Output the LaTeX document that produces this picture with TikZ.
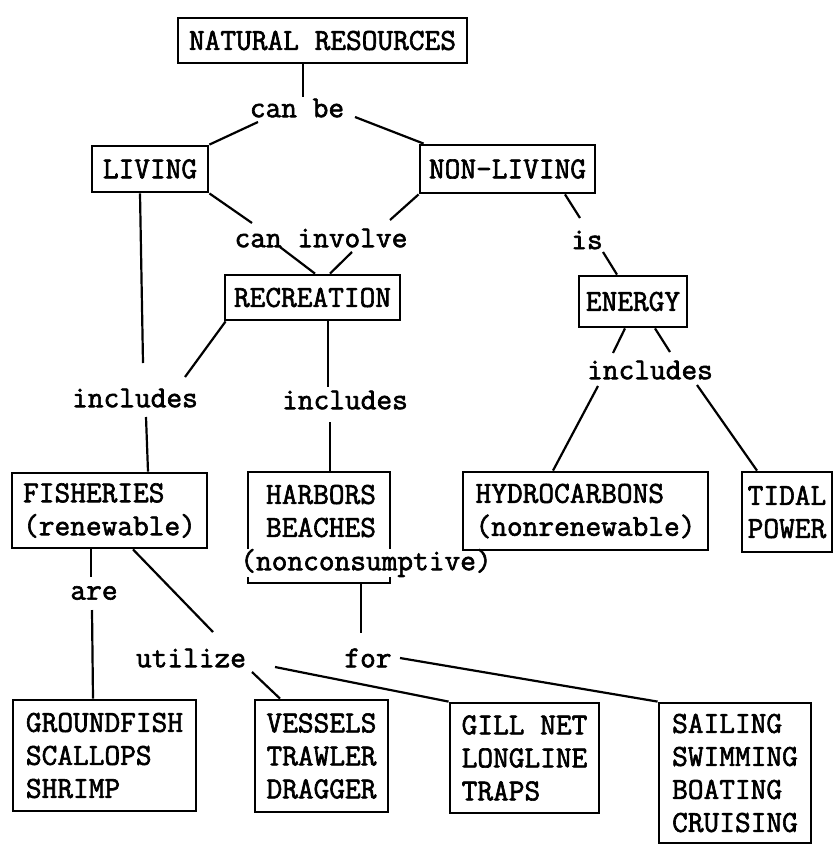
\documentclass[tikz,border=0pt]{standalone}
\usepackage{fontspec}
\setmonofont{Latin Modern Mono}[FakeBold=2]
\begin{document}
\begin{tikzpicture}[x=1pt,y=-1pt,
  font=\ttfamily\fontsize{30.5}{33}\selectfont,
  box/.style={draw, line width=2.8pt, inner sep=0pt, align=left},
  lbl/.style={inner sep=0pt},
  conn/.style={line width=2.2pt}]
\useasboundingbox (0,0) rectangle (834,846);
\fill[white] (0,0) rectangle (834,846);

\node[box, minimum width=289, minimum height=45] (nr) at (322.5,40.5) {NATURAL RESOURCES};
\node[lbl] (canbe) at (297,108) {can be};
\node[box, minimum width=116, minimum height=46] (living) at (150,169) {LIVING};
\node[box, minimum width=175, minimum height=48] (nonliving) at (507.5,169) {NON-LIVING};
\node[lbl] (caninvolve) at (321,238) {can involve};
\node[lbl] (is) at (587,240) {is};
\node[box, minimum width=175, minimum height=45] (rec) at (312.5,297.5) {RECREATION};
\node[box, minimum width=108, minimum height=51] (energy) at (633,301.5) {ENERGY};
\node[lbl] (incl1) at (135,398) {includes};
\node[lbl] (incl2) at (345,400) {includes};
\node[lbl] (incl3) at (650,370) {includes};
\node[box, minimum width=195, minimum height=75] (fish) at (109.5,510.5) {FISHERIES\\(renewable)};
\node[box, minimum width=142, minimum height=111] (hb) at (319,527.5) {};
\node[lbl, align=left] (hbtext) at (321,511) {HARBORS\\BEACHES};
\node[lbl, fill=white] (noncons) at (366,563) {(nonconsumptive)};
\node[box, minimum width=245, minimum height=78] (hydro) at (585.5,511) {HYDROCARBONS\\(nonrenewable)};
\node[box, minimum width=90, minimum height=80] (tidal) at (787,512) {TIDAL\\POWER};
\node[lbl] (are) at (94,593) {are};
\node[lbl] (utilize) at (191,658) {utilize};
\node[lbl] (for) at (368,658) {for};
\node[box, minimum width=183, minimum height=111] (gf) at (104.5,755.5) {GROUNDFISH\\SCALLOPS\\SHRIMP};
\node[box, minimum width=133, minimum height=112] (ves) at (321.5,756) {VESSELS\\TRAWLER\\DRAGGER};
\node[box, minimum width=149, minimum height=110] (gill) at (524.5,758) {GILL NET\\LONGLINE\\TRAPS};
\node[box, minimum width=152, minimum height=140] (sail) at (735,773) {SAILING\\SWIMMING\\BOATING\\CRUISING};

\draw[conn] ([xshift=-19.5]nr.south) -- ([shift={(6,-11)}]canbe.center);
\draw[conn] ([shift={(-39,14)}]canbe.center) -- (living.north east);
\draw[conn] ([shift={(58,9)}]canbe.center) -- ([xshift=5]nonliving.north west);
\draw[conn] (living.south east) -- ([shift={(-69,-15)}]caninvolve.center);
\draw[conn] (nonliving.south west) -- ([shift={(69,-18)}]caninvolve.center);
\draw[conn] ([shift={(-41,9)}]caninvolve.center) -- ([xshift=2.5]rec.north);
\draw[conn] ([shift={(31,14)}]caninvolve.center) -- ([xshift=17.5]rec.north);
\draw[conn] ([xshift=57.5]nonliving.south) -- ([shift={(-7,-22)}]is.center);
\draw[conn] ([shift={(16,12)}]is.center) -- ([xshift=-16]energy.north);
\draw[conn] ([xshift=-8]energy.south) -- ([shift={(-37,-17)}]incl3.center);
\draw[conn] ([xshift=22]energy.south) -- ([shift={(20,-18)}]incl3.center);
\draw[conn] ([shift={(-52,16)}]incl3.center) -- ([xshift=-32.5]hydro.north);
\draw[conn] ([shift={(47,15)}]incl3.center) -- ([xshift=-30]tidal.north);
\draw[conn] ([xshift=-10]living.south) -- ([shift={(8,-35)}]incl1.center);
\draw[conn] ([shift={(11,19)}]incl1.center) -- ([xshift=38.5]fish.north);
\draw[conn] ([xshift=2]rec.south west) -- ([shift={(50,-21)}]incl1.center);
\draw[conn] ([xshift=15.5]rec.south) -- ([shift={(-17,-13)}]incl2.center);
\draw[conn] ([shift={(-15,22)}]incl2.center) -- ([xshift=11]hb.north);
\draw[conn] ([xshift=42]hb.south) -- ([shift={(-7,-25)}]for.center);
\draw[conn] ([xshift=-18.5]fish.south) -- ([shift={(-3,-16)}]are.center);
\draw[conn] ([shift={(-2,17)}]are.center) -- ([xshift=-11.5]gf.north);
\draw[conn] ([xshift=23.5]fish.south) -- ([shift={(22,-26)}]utilize.center);
\draw[conn] ([shift={(61,14)}]utilize.center) -- ([xshift=-41.5]ves.north);
\draw[conn] ([shift={(84,9)}]utilize.center) -- (gill.north west);
\draw[conn] ([shift={(32,0)}]for.center) -- (sail.north west);
\end{tikzpicture}
\end{document}
